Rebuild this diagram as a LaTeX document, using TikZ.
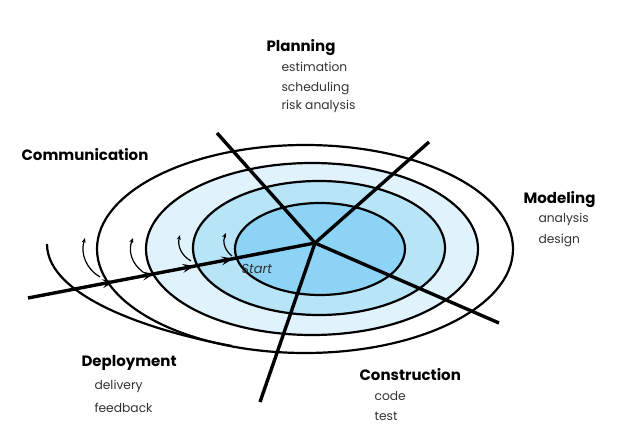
\documentclass[tikz,border=0pt]{standalone}
\usepackage{fontspec}
\setmainfont{Poppins}
\usetikzlibrary{arrows.meta, decorations.markings}

\definecolor{ringA}{HTML}{8CD3F5}
\definecolor{ringB}{HTML}{B8E4F8}
\definecolor{ringC}{HTML}{E0F3FC}
\definecolor{taskgray}{HTML}{333333}

\begin{document}
\begin{tikzpicture}[x=1pt, y=1pt,
  ring/.style={draw=black, line width=2.2pt},
  spoke/.style={draw=black, line width=3.4pt},
  phase/.style={anchor=base west, font=\fontsize{15}{17}\selectfont\bfseries},
  task/.style={anchor=base west, text=taskgray, font=\fontsize{12.3}{14}\selectfont},
  turn/.style={-{Stealth[length=5pt, width=4pt]}, line width=1.2pt, bend left=38}
]
\useasboundingbox (0,0) rectangle (621,439);

% rings, outermost first
\filldraw[ring, fill=white] (305,190) ellipse [x radius=208, y radius=104];
\filldraw[ring, fill=ringC] (312,190) ellipse [x radius=166, y radius=86];
\filldraw[ring, fill=ringB] (319,191) ellipse [x radius=126, y radius=67];
\filldraw[ring, fill=ringA] (320,190) ellipse [x radius=85, y radius=46];
\coordinate (outerin) at (47,195);
\coordinate (outerjoin) at (232,93);
\draw[ring] (outerin) .. controls (47,140) and (160,106) .. (outerjoin);

% spokes
\coordinate (hub) at (315,196);
\coordinate (toplan) at (217,306);
\coordinate (tomodel) at (429,297);
\coordinate (tobuild) at (499,116);
\coordinate (todeploy) at (260,37);
\coordinate (entry) at (28,141);
\draw[spoke] (hub) -- (toplan);
\draw[spoke] (hub) -- (tomodel);
\draw[spoke] (hub) -- (tobuild);
\draw[spoke] (hub) -- (todeploy);
\draw[spoke, postaction={decorate}, decoration={markings,
    mark=at position 0.30 with {\arrow[line width=1pt]{Stealth[length=12pt, width=9pt, inset=5pt]}},
    mark=at position 0.44 with {\arrow[line width=1pt]{Stealth[length=12pt, width=9pt, inset=5pt]}},
    mark=at position 0.58 with {\arrow[line width=1pt]{Stealth[length=12pt, width=9pt, inset=5pt]}},
    mark=at position 0.715 with {\arrow[line width=1pt]{Stealth[length=12pt, width=9pt, inset=5pt]}}}]
  (entry) -- (hub);

% small turns up to the next ring
\coordinate (s1) at (100,162); \coordinate (t1) at (85,201);
\coordinate (s2) at (143,167); \coordinate (t2) at (133,201);
\coordinate (s3) at (191,178); \coordinate (t3) at (180,204);
\coordinate (s4) at (232,183); \coordinate (t4) at (226,206);
\draw[turn] (s1) to (t1);
\draw[turn] (s2) to (t2);
\draw[turn] (s3) to (t3);
\draw[turn] (s4) to (t4);

\node[anchor=base west, text=taskgray, font=\fontsize{13}{15}\selectfont\itshape] (start) at (238,165) {Start};

% phases
\node[phase] (planning) at (263,387) {Planning};
\node[task] (estimation) at (278,367) {estimation};
\node[task] (scheduling) at (278,347) {scheduling};
\node[task] (risk) at (278,329) {risk analysis};

\node[phase] (communication) at (18,278) {Communication};

\node[phase] (modeling) at (520,235) {Modeling};
\node[task] (analysis) at (535,216) {analysis};
\node[task] (design) at (535,195) {design};

\node[phase] (deployment) at (78,72) {Deployment};
\node[task] (delivery) at (91,49) {delivery};
\node[task] (feedback) at (91,26) {feedback};

\node[phase] (construction) at (356,58) {Construction};
\node[task] (code) at (371,38) {code};
\node[task] (test) at (371,19) {test};
\end{tikzpicture}
\end{document}
